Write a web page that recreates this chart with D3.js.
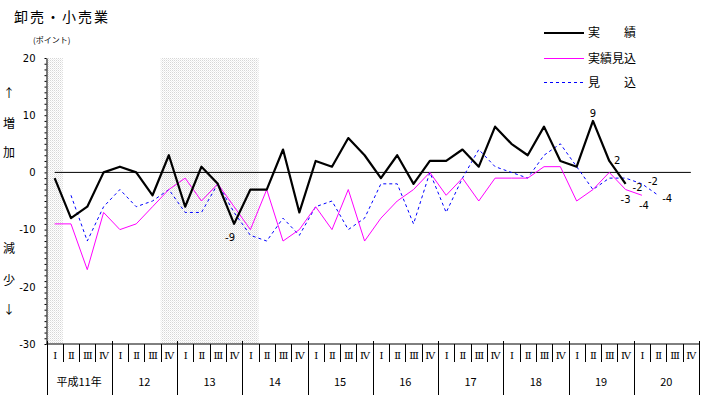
<!DOCTYPE html>
<html>
<head>
<meta charset="utf-8">
<script src="https://cdn.jsdelivr.net/npm/d3@7"></script>
<style>
  body { margin: 0; background: #fff; }
  svg { display: block; }
  text { font-family: "Noto Sans CJK JP", "DejaVu Sans", sans-serif; fill: #000; }
</style>
</head>
<body>
<div id="chart"></div>
<script>
// 年(平成)と四半期
var years = ["平成11年", "12", "13", "14", "15", "16", "17", "18", "19", "20"];
var quarters = ["Ⅰ", "Ⅱ", "Ⅲ", "Ⅳ"];

// 実績 (H11 I - H19 IV)
var jisseki = [-1, -8, -6, 0, 1, 0, -4, 3, -6, 1, -2, -9, -3, -3, 4, -7, 2, 1, 6, 3,
  -1, 3, -2, 2, 2, 4, 1, 8, 5, 3, 8, 2, 1, 9, 2, -2];
// 実績見込 (H11 I - H20 I)
var jissekiMikomi = [-9, -9, -17, -7, -10, -9, -6, -3, -1, -5, -2, -6, -10, -3, -12, -10, -6, -10, -3, -12,
  -8, -5, -3, 0, -4, -1, -5, -1, -1, -1, 1, 1, -5, -3, 0, -3, -4];
// 見込 (H11 II - H20 II)
var mikomi = [null, -4, -12, -6, -3, -6, -5, -3, -7, -7, -2, -7, -11, -12, -8, -11, -6, -5, -10, -8,
  -2, -2, -9, 0, -7, -1, 4, 1, 0, -1, 3, 5, 1, -3, -1, -1, -2, -4];

// 網掛け期間 (四半期の番号)
var shaded = [[0, 0], [7, 12]];

var width = 709, height = 395;
var pLeft = 46.5, pRight = 699, pTop = 58, pBottom = 344;

var svg = d3.select("#chart").append("svg")
  .attr("width", width)
  .attr("height", height);

var nq = years.length * 4;
var x = d3.scaleBand().domain(d3.range(nq)).range([pLeft, pRight]);
var bw = x.bandwidth();
var y = d3.scaleLinear().domain([-30, 20]).range([pBottom, pTop]);

function cx(i) { return x(i) + bw / 2; }

// dotted pattern
var pat = svg.append("defs").append("pattern")
  .attr("id", "dots")
  .attr("width", 2).attr("height", 2)
  .attr("patternUnits", "userSpaceOnUse");
pat.append("rect").attr("width", 1).attr("height", 1).attr("fill", "#d6d6d6");
pat.append("rect").attr("x", 1).attr("y", 1).attr("width", 1).attr("height", 1).attr("fill", "#ececec");

svg.selectAll("rect.shade")
  .data(shaded)
  .enter().append("rect")
  .attr("class", "shade")
  .attr("x", function(d) { return x(d[0]); })
  .attr("y", pTop)
  .attr("width", function(d) { return x(d[1]) + bw - x(d[0]); })
  .attr("height", pBottom - pTop)
  .attr("fill", "url(#dots)");

// title
svg.append("text")
  .attr("x", 14).attr("y", 22)
  .style("font-size", "14px")
  .style("letter-spacing", "2px")
  .text("卸売・小売業");

svg.append("text")
  .attr("x", 33).attr("y", 43)
  .style("font-size", "8px")
  .text("(ポイント)");

// side labels
var side = [["↑", 94], ["増", 124], ["加", 153], ["減", 249], ["少", 281], ["↓", 310]];
svg.selectAll("text.side")
  .data(side)
  .enter().append("text")
  .attr("class", "side")
  .attr("x", 9)
  .attr("y", function(d) { return d[1]; })
  .attr("dy", "0.35em")
  .attr("text-anchor", "middle")
  .style("font-size", "12px")
  .text(function(d) { return d[0]; });

// y axis
var yAxis = d3.axisLeft(y)
  .tickValues(d3.range(-30, 21))
  .tickSize(2)
  .tickSizeOuter(0)
  .tickPadding(9)
  .tickFormat(function(d) { return d % 10 === 0 ? String(d) : ""; });

var gy = svg.append("g")
  .attr("transform", "translate(" + pLeft + ",0)")
  .call(yAxis);
gy.select(".domain").attr("stroke", "#000");
gy.selectAll("line").attr("stroke", "#000");
gy.selectAll("text")
  .style("font-family", "'DejaVu Sans', sans-serif")
  .style("font-size", "10px");

// zero line
svg.append("line")
  .attr("x1", cx(0)).attr("x2", cx(nq - 1))
  .attr("y1", y(0)).attr("y2", y(0))
  .attr("stroke", "#000").attr("stroke-width", 1);

// x axis (category table)
svg.append("line")
  .attr("x1", pLeft).attr("x2", pRight)
  .attr("y1", pBottom).attr("y2", pBottom)
  .attr("stroke", "#000");

var qIdx = d3.range(nq);
svg.selectAll("line.qdiv")
  .data(qIdx.filter(function(i) { return i % 4 !== 0; }))
  .enter().append("line")
  .attr("class", "qdiv")
  .attr("x1", function(i) { return Math.round(x(i)) + 0.5; })
  .attr("x2", function(i) { return Math.round(x(i)) + 0.5; })
  .attr("y1", pBottom).attr("y2", 362)
  .attr("stroke", "#000");

svg.selectAll("line.ydiv")
  .data(d3.range(years.length + 1))
  .enter().append("line")
  .attr("class", "ydiv")
  .attr("x1", function(k) { return Math.round(k < years.length ? x(k * 4) : pRight) + 0.5; })
  .attr("x2", function(k) { return Math.round(k < years.length ? x(k * 4) : pRight) + 0.5; })
  .attr("y1", pBottom - 3).attr("y2", height)
  .attr("stroke", "#000");

svg.selectAll("text.q")
  .data(qIdx)
  .enter().append("text")
  .attr("class", "q")
  .attr("x", function(i) { return cx(i) + 0.5; })
  .attr("y", 359)
  .attr("text-anchor", "middle")
  .style("font-family", "'DejaVu Serif', serif")
  .style("font-size", "10px")
  .text(function(i) { return quarters[i % 4]; });

svg.selectAll("text.yr")
  .data(years)
  .enter().append("text")
  .attr("class", "yr")
  .attr("x", function(d, k) { return x(k * 4) + bw * 2; })
  .attr("y", 386)
  .attr("text-anchor", "middle")
  .style("font-size", "11px")
  .text(function(d) { return d; });

// lines
var line = d3.line()
  .defined(function(d) { return d != null; })
  .x(function(d, i) { return cx(i); })
  .y(function(d) { return y(d); });

svg.append("path")
  .datum(mikomi)
  .attr("fill", "none")
  .attr("stroke", "#0000ff")
  .attr("stroke-width", 1)
  .attr("stroke-dasharray", "3,3")
  .attr("d", line);

svg.append("path")
  .datum(jissekiMikomi)
  .attr("fill", "none")
  .attr("stroke", "#ff00ff")
  .attr("stroke-width", 1)
  .attr("d", line);

svg.append("path")
  .datum(jisseki)
  .attr("fill", "none")
  .attr("stroke", "#000")
  .attr("stroke-width", 2.2)
  .attr("stroke-linejoin", "round")
  .attr("d", line);

// value labels: [series, index, dx, dy]
var labels = [
  [jisseki, 11, -4, 14],
  [jisseki, 33, 0, -7],
  [jisseki, 34, 8, 0],
  [jisseki, 35, 12, 4],
  [jissekiMikomi, 35, 0, 10],
  [jissekiMikomi, 36, 2, 10],
  [mikomi, 36, 11, -2],
  [mikomi, 37, 9, 3]
];
svg.selectAll("text.val")
  .data(labels)
  .enter().append("text")
  .attr("class", "val")
  .attr("x", function(d) { return cx(d[1]) + d[2]; })
  .attr("y", function(d) { return y(d[0][d[1]]) + d[3]; })
  .attr("dy", "0.35em")
  .attr("text-anchor", "middle")
  .style("font-family", "'DejaVu Sans', sans-serif")
  .style("font-size", "10px")
  .text(function(d) { return String(d[0][d[1]]); });

// legend
var legend = [
  ["実　　績", "#000", 2.2, null],
  ["実績見込", "#ff00ff", 1, null],
  ["見　　込", "#0000ff", 1, "3,3"]
];
var lg = svg.selectAll("g.lg")
  .data(legend)
  .enter().append("g")
  .attr("class", "lg")
  .attr("transform", function(d, i) { return "translate(544," + [33, 58.5, 82.5][i] + ")"; });
lg.append("line")
  .attr("x1", 0).attr("x2", 40)
  .attr("stroke", function(d) { return d[1]; })
  .attr("stroke-width", function(d) { return d[2]; })
  .attr("stroke-dasharray", function(d) { return d[3]; });
lg.append("text")
  .attr("x", 44)
  .attr("dy", "0.35em")
  .style("font-size", "12px")
  .text(function(d) { return d[0]; });
</script>
</body>
</html>
